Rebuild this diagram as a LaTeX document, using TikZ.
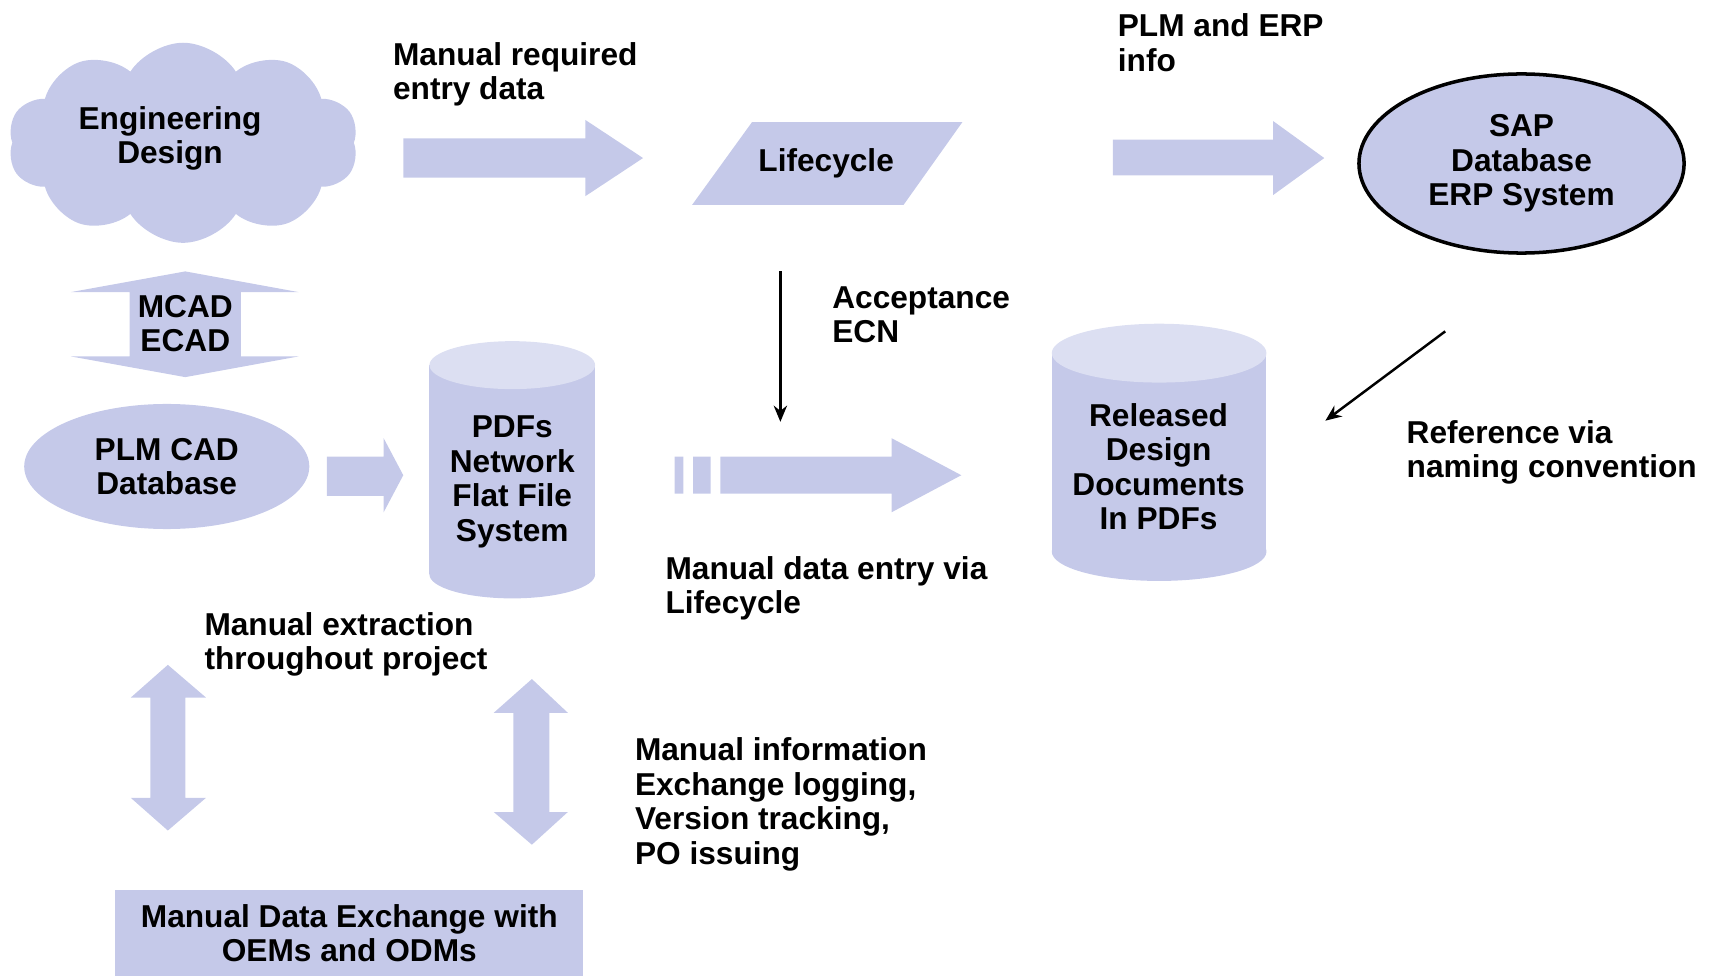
\documentclass[tikz,border=0pt]{standalone}
\usepackage{fontspec}
\setmainfont{Liberation Sans}
\usetikzlibrary{shapes.geometric,shapes.symbols,arrows.meta}
\definecolor{lav}{RGB}{197,201,233}
\definecolor{lavtop}{RGB}{220,223,242}
\begin{document}
\begin{tikzpicture}[x=0.0109cm,y=-0.0109cm,>={Stealth[length=4.6pt,width=3.8pt]},
	font=\fontsize{9}{9.8}\selectfont\bfseries,
	lbl/.style={anchor=west,align=left,inner sep=0},
	txt/.style={align=center,inner sep=0}]
	\useasboundingbox (0,0) rectangle (1568,895);
	% top row
	\node[cloud,cloud puffs=10,cloud puff arc=115,aspect=1.8,fill=lav,minimum width=3.5cm,minimum height=2.0cm] (eng) at (168,131) {};
	\node[txt] (engtxt) at (156,127) {Engineering\\Design};
	\fill[lav] (370,127) -- (537,127) -- (537,110) -- (590,145) -- (537,180) -- (537,163) -- (370,163) -- cycle;
	\node[lbl] (reqtxt) at (360,68) {Manual required\\entry data};
	\fill[lav] (690,112) -- (883,112) -- (829,188) -- (635,188) -- cycle;
	\node[txt] (life) at (758,150) {Lifecycle};
	\fill[lav] (1021,128) -- (1168,128) -- (1168,111) -- (1215,145) -- (1168,179) -- (1168,161) -- (1021,161) -- cycle;
	\node[lbl] (erptxt) at (1025,39) {PLM and ERP\\info};
	\node[ellipse,draw=black,line width=1pt,fill=lav,minimum width=3.25cm,minimum height=1.79cm,txt] (sap) at (1396,150) {SAP\\Database\\ERP System};
	% middle row
	\fill[lav] (170,249) -- (274,268) -- (221,268) -- (221,327) -- (274,327) -- (170,346) -- (65,327) -- (119,327) -- (119,268) -- (65,268) -- cycle;
	\node[txt] (cad) at (170,297) {MCAD\\ECAD};
	\node[ellipse,fill=lav,minimum width=2.85cm,minimum height=1.25cm,txt] (plm) at (153,428) {PLM CAD\\Database};
	\fill[lav] (300,419) -- (352,419) -- (352,402) -- (370,436) -- (352,470) -- (352,455) -- (300,455) -- cycle;
	\fill[lav] (394,335) rectangle (546,527);
	\fill[lav] (470,527) ellipse [x radius=76,y radius=22];
	\fill[lavtop] (470,335) ellipse [x radius=76,y radius=22];
	\node[txt] (pdf) at (470,442) {PDFs\\Network\\Flat File\\System};
	\coordinate (ecntop) at (716,249);
	\coordinate (ecntip) at (716,387);
	\draw[->,line width=0.7pt] (ecntop) -- (ecntip);
	\node[lbl] (ecntxt) at (763,289) {Acceptance\\ECN};
	\fill[lav] (619,419) rectangle (627,453) (636,419) rectangle (652,453);
	\fill[lav] (661,419) -- (818,419) -- (818,402) -- (882,436) -- (818,470) -- (818,453) -- (661,453) -- cycle;
	\node[lbl] (entrytxt) at (610,540) {Manual data entry via\\Lifecycle};
	\fill[lav] (965,324) rectangle (1162,506);
	\fill[lav] (1063.5,506) ellipse [x radius=98.5,y radius=27];
	\fill[lavtop] (1063.5,324) ellipse [x radius=98.5,y radius=27];
	\node[txt] (rel) at (1063,428) {Released\\Design\\Documents\\In PDFs};
	\coordinate (reftop) at (1326,304);
	\coordinate (reftip) at (1216,386);
	\draw[->,line width=0.7pt] (reftop) -- (reftip);
	\node[lbl] (reftxt) at (1290,415) {Reference via\\naming convention};
	% bottom row
	\node[lbl] (extxt) at (187,591) {Manual extraction\\throughout project};
	\fill[lav] (154,610) -- (189,640) -- (170,640) -- (170,732) -- (189,732) -- (154,762) -- (120,732) -- (138,732) -- (138,640) -- (120,640) -- cycle;
	\fill[lav] (488,623) -- (521,654) -- (504,654) -- (504,745) -- (521,745) -- (488,775) -- (453,745) -- (471,745) -- (471,654) -- (453,654) -- cycle;
	\node[lbl] (logtxt) at (582,738) {Manual information\\Exchange logging,\\Version tracking,\\PO issuing};
	\node[fill=lav,txt,minimum width=4.68cm,minimum height=0.86cm] (oem) at (320.5,856) {Manual Data Exchange with\\OEMs and ODMs};
\end{tikzpicture}
\end{document}
